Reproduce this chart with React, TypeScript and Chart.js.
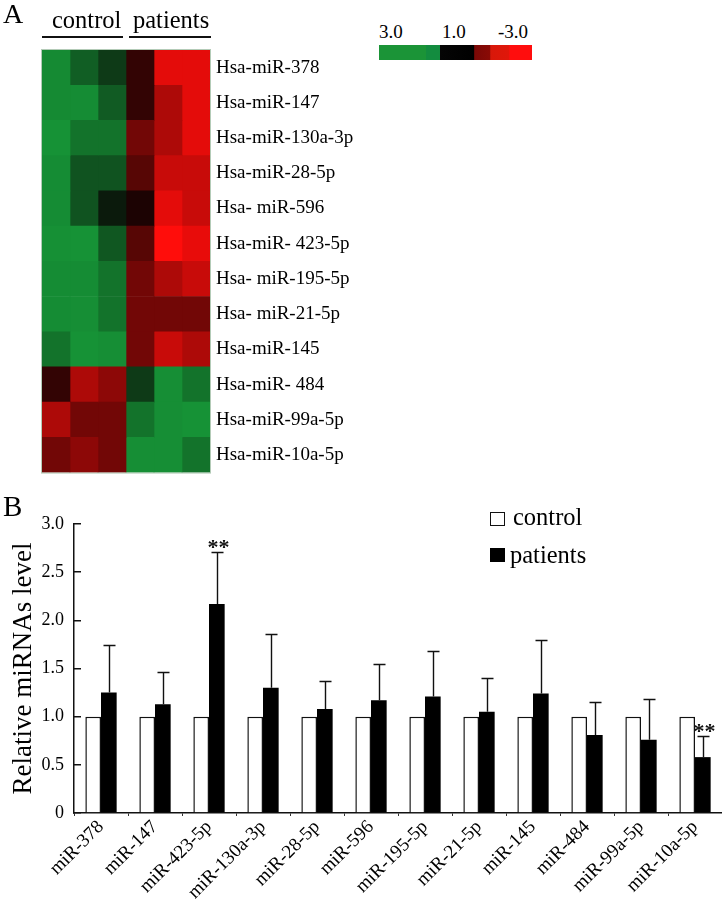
import React, { useEffect, useRef } from 'react';
import { Chart, registerables } from 'chart.js';

Chart.register(...registerables);

const FONT = "'Liberation Serif', 'Times New Roman', Times, serif";

// ---------- Panel A: heatmap data ----------
const heatmapRows = [
  'Hsa-miR-378',
  'Hsa-miR-147',
  'Hsa-miR-130a-3p',
  'Hsa-miR-28-5p',
  'Hsa- miR-596',
  'Hsa-miR- 423-5p',
  'Hsa- miR-195-5p',
  'Hsa- miR-21-5p',
  'Hsa-miR-145',
  'Hsa-miR- 484',
  'Hsa-miR-99a-5p',
  'Hsa-miR-10a-5p',
];
const heatmapSamples = ['control 1', 'control 2', 'control 3', 'patient 1', 'patient 2', 'patient 3'];
const control1 = [2.8, 2.8, 3.0, 2.85, 2.85, 2.95, 2.85, 2.85, 2.25, -0.4, -1.95, -1.2];
const control2 = [1.75, 2.85, 2.25, 1.5, 1.5, 3.0, 2.85, 2.9, 3.0, -1.95, -1.2, -1.55];
const control3 = [0.9, 1.7, 2.25, 1.5, 0.15, 1.6, 2.25, 2.25, 2.9, -1.55, -1.2, -1.2];
const patient1 = [-0.4, -0.4, -1.2, -0.85, -0.1, -0.85, -1.2, -1.2, -1.2, 0.9, 2.25, 2.9];
const patient2 = [-2.65, -1.95, -1.95, -2.3, -2.65, -3.0, -1.95, -1.2, -2.3, 2.9, 2.9, 2.9];
const patient3 = [-2.65, -2.65, -2.65, -2.3, -2.3, -2.7, -2.3, -1.2, -1.95, 2.25, 3.0, 2.25];
const heatmapColorTicks = ['3.0', '1.0', '-3.0'];

// ---------- Panel B: bar chart data ----------
const barCategories = [
  'miR-378', 'miR-147', 'miR-423-5p', 'miR-130a-3p', 'miR-28-5p', 'miR-596',
  'miR-195-5p', 'miR-21-5p', 'miR-145', 'miR-484', 'miR-99a-5p', 'miR-10a-5p',
];
const controlLevels = [1, 1, 1, 1, 1, 1, 1, 1, 1, 1, 1, 1];
const patientLevels = [1.25, 1.13, 2.17, 1.3, 1.08, 1.17, 1.21, 1.05, 1.24, 0.81, 0.76, 0.58];
const patientSD = [0.49, 0.33, 0.54, 0.56, 0.29, 0.38, 0.47, 0.35, 0.56, 0.34, 0.42, 0.22];
const significance = ['', '', '**', '', '', '', '', '', '', '', '', '**'];
const yTickLabels = ['0', '0.5', '1.0', '1.5', '2.0', '2.5', '3.0'];
const seriesNames = ['control', 'patients'];

function heatColor(v: number): string {
  const t = Math.min(Math.abs(v) / 3, 1);
  if (v >= 0) {
    return `rgb(${Math.round(10 + 12 * t)}, ${Math.round(20 + 126 * t)}, ${Math.round(10 + 44 * t)})`;
  }
  return `rgb(${Math.round(20 + 235 * t)}, ${Math.round(3 + 10 * t)}, ${Math.round(3 + 8 * t)})`;
}

const heatOutlinePlugin = {
  id: 'heatOutline',
  afterDatasetsDraw(chart: any) {
    const { ctx, chartArea } = chart;
    ctx.save();
    ctx.strokeStyle = 'rgba(160,190,165,0.8)';
    ctx.lineWidth = 1;
    ctx.strokeRect(chartArea.left - 0.5, chartArea.top - 0.5, chartArea.right - chartArea.left + 1, chartArea.bottom - chartArea.top + 1);
    ctx.restore();
  },
};

const errorBarPlugin = {
  id: 'errorBars',
  afterDatasetsDraw(chart: any) {
    const meta = chart.getDatasetMeta(1);
    const yScale = chart.scales.y;
    const ctx = chart.ctx;
    ctx.save();
    ctx.strokeStyle = '#111';
    ctx.lineWidth = 1.4;
    meta.data.forEach((bar: any, i: number) => {
      const x = Math.round(bar.x) + 0.5;
      const base = yScale.getPixelForValue(patientLevels[i]);
      const top = Math.round(yScale.getPixelForValue(patientLevels[i] + patientSD[i])) + 0.5;
      ctx.beginPath();
      ctx.moveTo(x, base);
      ctx.lineTo(x, top);
      ctx.moveTo(x - 6, top);
      ctx.lineTo(x + 6, top);
      ctx.stroke();
      if (significance[i]) {
        ctx.fillStyle = '#111';
        ctx.font = `bold 22px ${FONT}`;
        ctx.textAlign = 'center';
        ctx.textBaseline = 'alphabetic';
        ctx.fillText(significance[i], x + 1, top + 1);
      }
    });
    ctx.restore();
  },
};

function Heatmap() {
  const ref = useRef<HTMLCanvasElement>(null);
  useEffect(() => {
    if (!ref.current) return;
    const samples = [control1, control2, control3, patient1, patient2, patient3];
    const chart = new Chart(ref.current, {
      type: 'bar',
      data: {
        labels: heatmapRows,
        datasets: samples.map((vals, k) => ({
          label: heatmapSamples[k],
          data: heatmapRows.map(() => 1),
          backgroundColor: vals.map(heatColor),
          borderWidth: 0,
          categoryPercentage: 1,
          barPercentage: 1,
        })),
      },
      options: {
        indexAxis: 'y',
        animation: false,
        responsive: false,
        layout: { padding: { left: 42, top: 50, right: 0, bottom: 8 } },
        plugins: { legend: { display: false }, tooltip: { enabled: false } },
        scales: {
          x: { type: 'linear', stacked: true, min: 0, max: 6, display: false },
          y: {
            type: 'category',
            stacked: true,
            position: 'right',
            grid: { display: false, drawTicks: false },
            border: { display: false },
            ticks: { font: { family: FONT, size: 19 }, color: '#000', padding: 6, autoSkip: false },
            afterFit: (s: any) => { s.width = 160; },
          },
        },
      },
      plugins: [heatOutlinePlugin],
    } as any);
    return () => chart.destroy();
  }, []);
  return <canvas ref={ref} width={370} height={490} style={{ position: 'absolute', left: 0, top: 0, width: 370, height: 490 }} />;
}

function BarPanel() {
  const ref = useRef<HTMLCanvasElement>(null);
  useEffect(() => {
    if (!ref.current) return;
    const chart = new Chart(ref.current, {
      type: 'bar',
      data: {
        labels: barCategories,
        datasets: [
          {
            label: seriesNames[0],
            data: controlLevels,
            backgroundColor: '#ffffff',
            borderColor: '#111',
            borderWidth: 1.5,
            borderSkipped: 'bottom',
            categoryPercentage: 0.58,
            barPercentage: 1,
          },
          {
            label: seriesNames[1],
            data: patientLevels,
            backgroundColor: '#000000',
            borderWidth: 0,
            categoryPercentage: 0.58,
            barPercentage: 1,
          },
        ],
      },
      options: {
        animation: false,
        responsive: false,
        layout: { padding: { top: 34, left: 0, right: 0, bottom: 0 } },
        plugins: { legend: { display: false }, tooltip: { enabled: false } },
        scales: {
          x: {
            type: 'category',
            grid: { display: true, drawOnChartArea: false, drawTicks: true, tickLength: 3, color: '#333', lineWidth: 1, offset: true },
            border: { display: true, color: '#111', width: 1.5 },
            ticks: { font: { family: FONT, size: 19 }, color: '#000', maxRotation: 45, minRotation: 45, autoSkip: false, padding: 0 },
            afterFit: (s: any) => { s.height = 88; },
          },
          y: {
            min: 0,
            max: 3,
            ticks: {
              stepSize: 0.5,
              font: { family: FONT, size: 18 },
              color: '#000',
              padding: 17,
              callback: (_v: any, i: number) => yTickLabels[i],
            },
            grid: { drawOnChartArea: false, drawTicks: true, tickLength: -7, color: '#111', lineWidth: 1.5 },
            border: { display: true, color: '#111', width: 1.5 },
            title: {
              display: true,
              text: 'Relative miRNAs level',
              font: { family: FONT, size: 27 },
              color: '#000',
              padding: { top: 8, bottom: 0 },
            },
            afterFit: (s: any) => { s.width = 74; },
          },
        },
      },
      plugins: [errorBarPlugin],
    } as any);
    return () => chart.destroy();
  }, []);
  return <canvas ref={ref} width={722} height={411} style={{ position: 'absolute', left: 0, top: 490, width: 722, height: 411 }} />;
}

const txt = (left: number, top: number, size: number, text: string) => (
  <div style={{ position: 'absolute', left, top, fontSize: size, lineHeight: `${size}px`, fontFamily: FONT, color: '#000', whiteSpace: 'nowrap' }}>{text}</div>
);

export default function App() {
  return (
    <div style={{ position: 'absolute', left: 0, top: 0, width: 722, height: 901, background: '#fff', overflow: 'hidden' }}>
      <Heatmap />
      <BarPanel />
      {txt(3, 0, 28, 'A')}
      {txt(52, 8, 24.5, 'control')}
      {txt(133, 8, 24.5, 'patients')}
      <div style={{ position: 'absolute', left: 42, top: 36, width: 81, height: 2, background: '#111' }} />
      <div style={{ position: 'absolute', left: 129, top: 36, width: 82, height: 2, background: '#111' }} />
      <div
        style={{
          position: 'absolute', left: 379, top: 45, width: 153, height: 15,
          background: 'linear-gradient(to right, #1b9437 0%, #1b9437 31%, #138c3f 31%, #138c3f 40%, #050505 40%, #000 62%, #7a0806 62.5%, #8a0a05 72.5%, #d8180a 73%, #e0170a 85%, #ff0d0d 85.5%, #ff0d0d 100%)',
        }}
      />
      {txt(379, 22, 19, heatmapColorTicks[0])}
      {txt(442, 22, 19, heatmapColorTicks[1])}
      {txt(498, 22, 19, heatmapColorTicks[2])}
      {txt(3, 492, 29, 'B')}
      <div style={{ position: 'absolute', left: 490, top: 512, width: 15, height: 14, boxSizing: 'border-box', border: '1.5px solid #111', background: '#fff' }} />
      <div style={{ position: 'absolute', left: 490, top: 548, width: 15, height: 14, background: '#000' }} />
      {txt(513, 505, 24.5, seriesNames[0])}
      {txt(510, 543, 24.5, seriesNames[1])}
    </div>
  );
}
